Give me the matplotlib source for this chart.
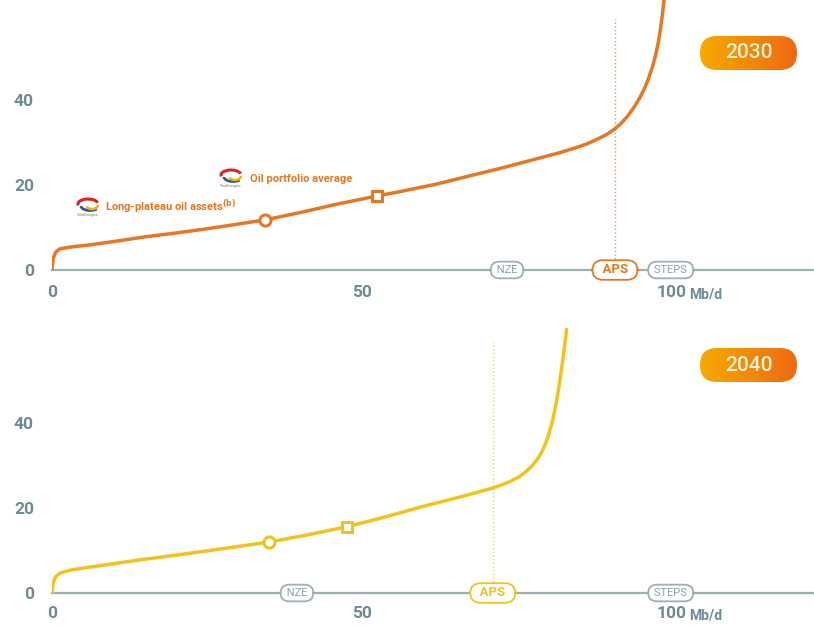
import numpy as np
import matplotlib
matplotlib.use("Agg")
import matplotlib.pyplot as plt
from matplotlib.patches import FancyBboxPatch, Arc
from matplotlib.colors import LinearSegmentedColormap

plt.rcParams['font.family'] = ['Roboto', 'DejaVu Sans']

# Supply curve 2030 (Mb/d vs $/b)
x_2030 = [0, 0.2, 0.6, 1.3, 3, 6, 10, 15, 20, 25, 30, 34.4, 40, 46, 52.4, 56, 62, 67,
          72.3, 77, 81.9, 83.5, 85.2, 86.5, 88, 89.5, 90.8, 91.8, 92.8, 93.8, 94.8,
          95.5, 96.2, 96.9, 97.4, 97.8, 98.1, 98.4, 98.6, 98.7]
y_2030 = [0, 2.8, 4.2, 5.0, 5.4, 5.9, 6.7, 7.8, 8.7, 9.7, 10.8, 11.8, 13.5, 15.5, 17.4,
          18.4, 20.2, 22.0, 23.9, 25.7, 27.6, 28.3, 29.1, 29.8, 30.8, 31.9, 33.2, 34.5,
          36.1, 38.1, 40.5, 42.5, 45.0, 48.0, 50.8, 53.6, 56.3, 59.5, 62.0, 63.5]

# Supply curve 2040
x_2040 = [0, 0.2, 0.6, 1.3, 3, 6.1, 10, 14.2, 20, 25, 30.3, 35, 41, 47.6, 53, 56, 59.4,
          64, 67.4, 71.1, 72.5, 74, 75.3, 76.5, 77.5, 78.3, 79, 79.6, 80.1, 80.6, 81,
          81.4, 81.8, 82.1, 82.4, 82.7, 83.0]
y_2040 = [0, 2.5, 3.8, 4.7, 5.4, 6.1, 6.9, 7.8, 8.9, 9.9, 11.0, 12.0, 13.6, 15.6, 17.6,
          18.8, 20.2, 21.9, 23.2, 24.7, 25.4, 26.3, 27.3, 28.6, 30.0, 31.5, 33.2, 35.1,
          37.2, 39.8, 42.3, 45.3, 48.8, 51.8, 55.0, 58.4, 62.0]

# TotalEnergies markers: long-plateau assets (circle), portfolio average (square)
circle_2030 = (34.4, 11.8)
square_2030 = (52.4, 17.4)
circle_2040 = (35.0, 12.0)
square_2040 = (47.6, 15.6)

# scenario demand positions on the x axis
scen_names = ['NZE', 'APS', 'STEPS']
scen_2030 = [73.4, 90.8, 99.8]
scen_2040 = [39.5, 71.1, 99.8]

yticks = [0, 20, 40]
xticks = [0, 50, 100]
years = ['2030', '2040']

ORANGE = '#E87722'
YELLOW = '#F3C21B'
GRAY = '#9DB0B5'
TICK = '#6F8A94'

W, H = 814, 626
fig = plt.figure(figsize=(W / 100, H / 100), dpi=100)


def draw_logo(px, py):
    # rough TotalEnergies logo, pixel coords (top-left origin)
    fx, fy = px / W, 1 - py / H
    fig.add_artist(Arc((fx, fy + 2 / H), 20 / W, 10 / H, theta1=10, theta2=190,
                       color='#E2231A', lw=2.2, transform=fig.transFigure))
    fig.add_artist(Arc((fx + 2 / W, fy), 18 / W, 9 / H, theta1=180, theta2=330,
                       color='#2C5AA0', lw=2.0, transform=fig.transFigure))
    fig.add_artist(Arc((fx + 4 / W, fy + 1 / H), 12 / W, 8 / H, theta1=200, theta2=360,
                       color='#F9B200', lw=1.8, transform=fig.transFigure))
    fig.text(fx, fy - 9 / H, 'TotalEnergies', fontsize=2.5, color='#7a7a7a',
             ha='center', va='center')


def panel(bottom_px, xs, ys, color, circ, sq, scen_x, aps_color, xpad, mbd_off):
    ax = fig.add_axes([52 / W, 1 - bottom_px / H, 762 / W, 270 / H])
    ax.set_xlim(0, 762 / 6.2)
    ax.set_ylim(0, 63.5)
    for s in ['top', 'right', 'left']:
        ax.spines[s].set_visible(False)
    ax.spines['bottom'].set_color(GRAY)
    ax.spines['bottom'].set_linewidth(1.6)
    ax.set_yticks(yticks)
    ax.set_xticks(xticks)
    ax.set_xticklabels([str(v) for v in xticks])
    ax.tick_params(axis='y', length=0, pad=13, labelsize=12.5, labelcolor=TICK)
    ax.tick_params(axis='x', length=0, pad=xpad, labelsize=12.5, labelcolor=TICK)
    for lab in ax.get_xticklabels() + ax.get_yticklabels():
        lab.set_fontweight('bold')
    ax.annotate('Mb/d', xy=(100, 0), xytext=(12, mbd_off), textcoords='offset points',
                ha='left', va='center', fontsize=10, fontweight='bold', color=TICK)

    # APS vertical guide
    ax.plot([scen_x[1], scen_x[1]], [0, 59], color=aps_color, lw=1, ls=':', alpha=0.8)

    ax.plot(xs, ys, color=color, lw=2.5, solid_capstyle='round',
            solid_joinstyle='round', zorder=3)
    ax.plot(*circ, marker='o', ms=8, mfc='white', mec=color, mew=2.2, zorder=4)
    ax.plot(*sq, marker='s', ms=7, mfc='white', mec=color, mew=2.2, zorder=4)

    for name, xv in zip(scen_names, scen_x):
        if name == 'APS':
            ax.text(xv, 0, '  APS  ', ha='center', va='center', fontsize=9.5,
                    fontweight='bold', color=aps_color, zorder=5,
                    bbox=dict(boxstyle='round,pad=0.25,rounding_size=0.8', fc='white',
                              ec=aps_color, lw=1.3))
        else:
            ax.text(xv, 0, ' ' + name + ' ', ha='center', va='center', fontsize=8,
                    color='#8FA2A9', zorder=5,
                    bbox=dict(boxstyle='round,pad=0.3,rounding_size=0.8', fc='white',
                              ec=GRAY, lw=1.3))
    return ax


ax1 = panel(270, x_2030, y_2030, ORANGE, circle_2030, square_2030, scen_2030, ORANGE, 11, -18)
ax2 = panel(593, x_2040, y_2040, YELLOW, circle_2040, square_2040, scen_2040, YELLOW, 9, -16)

# annotations in top panel
draw_logo(88, 206)
fig.text(105 / W, 1 - 207 / H, r'Long-plateau oil assets$^{\mathbf{(b)}}$', fontsize=8,
         fontweight='bold', color=ORANGE, ha='left', va='center')
draw_logo(231, 177)
fig.text(250 / W, 1 - 179 / H, 'Oil portfolio average', fontsize=8,
         fontweight='bold', color=ORANGE, ha='left', va='center')

# year badges with gradient
cmap = LinearSegmentedColormap.from_list('badge', ['#F7AA00', '#EE6A12'])
grad = np.linspace(0, 1, 256).reshape(1, -1)
for year, cy in zip(years, [53, 365]):
    bx = fig.add_axes([700 / W, 1 - (cy + 17) / H, 97 / W, 34 / H])
    bx.set_xlim(0, 97)
    bx.set_ylim(0, 34)
    bx.axis('off')
    im = bx.imshow(grad, cmap=cmap, extent=[0, 97, 0, 34], aspect='auto')
    patch = FancyBboxPatch((0, 0), 97, 34, boxstyle='round,pad=0,rounding_size=17',
                           fc='none', ec='none', transform=bx.transData)
    bx.add_patch(patch)
    im.set_clip_path(patch)
    bx.text(48.5, 17, year, ha='center', va='center', fontsize=15, fontweight='medium',
            color='#FFF3D6')

fig.savefig('out.png', dpi=100, facecolor='white')
